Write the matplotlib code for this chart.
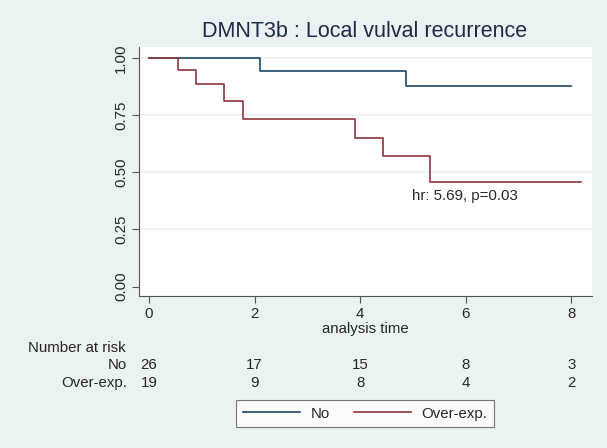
import matplotlib.pyplot as plt
import matplotlib.transforms as mtransforms
from matplotlib.lines import Line2D

# Kaplan-Meier step points (time, survival)
no_times = [0.0, 2.11, 4.86, 8.0]
no_surv = [1.0, 0.942, 0.875, 0.875]
over_times = [0.0, 0.555, 0.885, 1.42, 1.785, 3.91, 4.43, 5.32, 8.19]
over_surv = [1.0, 0.946, 0.887, 0.812, 0.731, 0.651, 0.569, 0.455, 0.455]

risk_times = [0, 2, 4, 6, 8]
risk_no = [26, 17, 15, 8, 3]
risk_over = [19, 9, 8, 4, 2]

x_ticks = [0, 2, 4, 6, 8]
y_ticks = [0.0, 0.25, 0.5, 0.75, 1.0]
y_ticklabels = ["0.00", "0.25", "0.50", "0.75", "1.00"]

color_no = "#1A476F"
color_over = "#90353B"
color_bg = "#EAF2F3"
color_text = "#262626"
color_title = "#1E2B45"

W, H = 607, 448
FS = 10.8
plt.rcParams["font.family"] = ["Liberation Sans", "DejaVu Sans"]
plt.rcParams["font.size"] = FS

fig = plt.figure(figsize=(W / 100, H / 100), dpi=100, facecolor=color_bg)
ax = fig.add_axes([139 / W, 1 - 296 / H, (592 - 139) / W, (296 - 47) / H])
ax.set_facecolor("white")

for yv in [0.25, 0.5, 0.75, 1.0]:
    ax.axhline(yv, color=color_bg, linewidth=1.2, zorder=1)

ax.step(no_times, no_surv, where="post", color=color_no, linewidth=1.2, zorder=3)
ax.step(over_times, over_surv, where="post", color=color_over, linewidth=1.2, zorder=3)

ax.set_xlim(-0.19, 8.39)
ax.set_ylim(-0.041, 1.047)
ax.set_xticks(x_ticks)
ax.set_yticks(y_ticks)
ax.set_yticklabels(y_ticklabels, rotation=90, va="center")
ax.tick_params(axis="both", direction="out", length=5, width=0.8,
               color="#555555", labelcolor=color_text, labelsize=FS, pad=3)

for side in ("top", "right"):
    ax.spines[side].set_visible(False)
for side in ("left", "bottom"):
    ax.spines[side].set_color("#555555")
    ax.spines[side].set_linewidth(0.8)

ax.text(4.99, 0.397, "hr: 5.69, p=0.03", ha="left", va="center",
        fontsize=FS, color=color_text)

fig.text(365 / W, 1 - 31.7 / H, "DMNT3b : Local vulval recurrence",
         ha="center", va="center", fontsize=15.5, color=color_title)
fig.text(365 / W, 1 - 329.3 / H, "analysis time", ha="center", va="center",
         fontsize=FS, color=color_text)

# number at risk table
trans = mtransforms.blended_transform_factory(ax.transData, fig.transFigure)
fig.text(28 / W, 1 - 347.7 / H, "Number at risk", ha="left", va="center",
         fontsize=FS, color=color_text)
fig.text(126.7 / W, 1 - 365 / H, "No", ha="right", va="center",
         fontsize=FS, color=color_text)
fig.text(126.7 / W, 1 - 382.7 / H, "Over-exp.", ha="right", va="center",
         fontsize=FS, color=color_text)
for t, n_no, n_over in zip(risk_times, risk_no, risk_over):
    ax.text(t, 1 - 365 / H, str(n_no), transform=trans, ha="center",
            va="center", fontsize=FS, color=color_text, clip_on=False)
    ax.text(t, 1 - 382.7 / H, str(n_over), transform=trans, ha="center",
            va="center", fontsize=FS, color=color_text, clip_on=False)

handles = [
    Line2D([], [], color=color_no, linewidth=1.2),
    Line2D([], [], color=color_over, linewidth=1.2),
]
leg = fig.legend(handles, ["No", "Over-exp."], loc="center",
                 bbox_to_anchor=(365 / W, 1 - 413.5 / H), ncol=2,
                 frameon=True, fancybox=False, fontsize=FS,
                 handlelength=3.8, handletextpad=0.7, columnspacing=1.6,
                 borderpad=0.45, borderaxespad=0)
leg.get_frame().set_edgecolor("#555555")
leg.get_frame().set_linewidth(0.8)
for txt in leg.get_texts():
    txt.set_color(color_text)

fig.savefig("out.png", dpi=100, facecolor=color_bg)
